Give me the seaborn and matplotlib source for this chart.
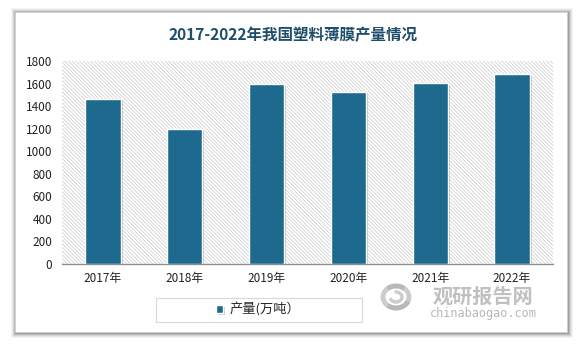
import matplotlib
matplotlib.use("Agg")
import matplotlib.pyplot as plt
import matplotlib.patheffects as pe
from matplotlib.patches import Rectangle, Arc
import seaborn as sns
import pandas as pd

years = ["2017年", "2018年", "2019年", "2020年", "2021年", "2022年"]
output_wt = [1465, 1200, 1598, 1528, 1608, 1688]
series_name = "产量(万吨）"
y_ticks = [0, 200, 400, 600, 800, 1000, 1200, 1400, 1600, 1800]
title = "2017-2022年我国塑料薄膜产量情况"

sns.set_theme(style="white")
plt.rcParams["font.family"] = ["Noto Sans CJK SC", "DejaVu Sans"]
plt.rcParams["hatch.linewidth"] = 0.6

W, H = 583, 345
fig = plt.figure(figsize=(W / 100, H / 100), dpi=100)
fig.patch.set_facecolor("white")

def fx(px):
    return px / W

def fy(py):
    return 1 - py / H

# card with soft shadow
card_l, card_t, card_r, card_b = 15, 12, 567, 332
for i, a in enumerate([0.04, 0.06, 0.08, 0.11, 0.15]):
    g = 5 - i
    fig.patches.append(Rectangle((fx(card_l - g + 1), fy(card_b + g + 1)),
                                 fx(card_r - card_l + 2 * g), (card_b - card_t + 2 * g) / H,
                                 transform=fig.transFigure, facecolor="black",
                                 edgecolor="none", alpha=a, zorder=0))
fig.patches.append(Rectangle((fx(card_l), fy(card_b)), fx(card_r - card_l),
                             (card_b - card_t) / H, transform=fig.transFigure,
                             facecolor="white", edgecolor="#d0d0d0", linewidth=0.6, zorder=1))

ax_l, ax_r, ax_t, ax_b = 62, 553, 61, 263.7
ax = fig.add_axes([fx(ax_l), fy(ax_b), fx(ax_r - ax_l), (ax_b - ax_t) / H])
ax.set_zorder(2)
ax.set_facecolor("white")

# diagonal hatched plot background
ax.add_patch(Rectangle((0, 0), 1, 1, transform=ax.transAxes, facecolor="white",
                       edgecolor="#d2d2d2", hatch="\\" * 9, linewidth=0, zorder=0))

df = pd.DataFrame({"year": years, "value": output_wt})
sns.barplot(data=df, x="year", y="value", color="#1d6a8e", width=0.43,
            saturation=1, edgecolor="white", linewidth=1.0, ax=ax, zorder=3,
            label=series_name)
for bar in ax.patches[1:]:
    bar.set_path_effects([pe.SimplePatchShadow(offset=(1.5, -1.5), alpha=0.3,
                                               shadow_rgbFace="#555555"), pe.Normal()])

ax.set_ylim(0, 1800)
ax.set_yticks(y_ticks)
ax.set_xlim(-0.5, len(years) - 0.5)
ax.set_xlabel("")
ax.set_ylabel("")
ax.tick_params(axis="both", length=0, labelsize=8.5, colors="#222222")
ax.tick_params(axis="x", pad=6)
ax.tick_params(axis="y", pad=7)
for s in ["top", "right", "left"]:
    ax.spines[s].set_visible(False)
ax.spines["bottom"].set_color("#8c8c8c")
ax.spines["bottom"].set_linewidth(0.9)
if ax.get_legend() is not None:
    ax.get_legend().remove()

fig.text(fx(293), fy(35), title, ha="center", va="center", fontsize=11.2,
         fontweight="bold", color="#1f4e6b", zorder=5)

# legend box
lg_l, lg_r, lg_t, lg_b = 156, 362, 298, 322
fig.patches.append(Rectangle((fx(lg_l), fy(lg_b)), fx(lg_r - lg_l), (lg_b - lg_t) / H,
                             transform=fig.transFigure, facecolor="white",
                             edgecolor="#d9d9d9", linewidth=0.8, zorder=3))
handles, labels = ax.get_legend_handles_labels()
fig.legend(handles[:1], [series_name], loc="center", bbox_to_anchor=(fx(258), fy(310)),
           frameon=False, fontsize=9.5, handlelength=0.55, handleheight=0.55,
           handletextpad=0.45, borderpad=0)

# watermark
wm = "#ababab"
for (t1, t2) in [(60, 330), (240, 480)]:
    fig.patches.append(Arc((fx(396), fy(297)), fx(26), 22 / H, theta1=t1, theta2=t2,
                           transform=fig.transFigure, color=wm, linewidth=3.5,
                           alpha=0.6, zorder=6))
fig.patches.append(Arc((fx(396), fy(297)), fx(12), 10 / H, theta1=200, theta2=460,
                       transform=fig.transFigure, color=wm, linewidth=2.5,
                       alpha=0.6, zorder=6))
fig.text(fx(483), fy(296), "观研报告网", ha="center", va="center", fontsize=14.5,
         fontweight="bold", color=wm, alpha=0.75, zorder=6)
fig.text(fx(483), fy(313), "chinabaogao.com", ha="center", va="center", fontsize=8.6,
         color=wm, alpha=0.85, zorder=6, family="DejaVu Sans Mono")

fig.savefig("out.png", dpi=100, facecolor="white")
